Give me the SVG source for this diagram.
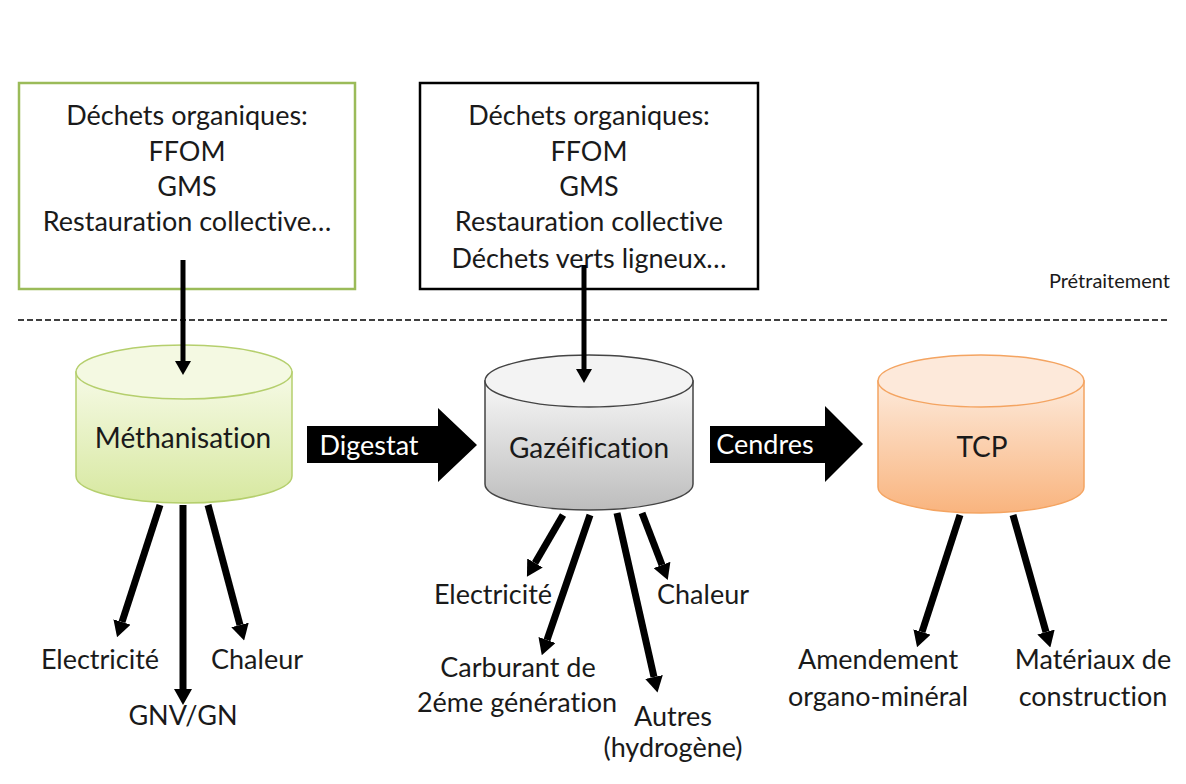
<svg xmlns="http://www.w3.org/2000/svg" width="1186" height="784" viewBox="0 0 1186 784">
<defs>
<linearGradient id="gGreen" x1="0" y1="0" x2="0" y2="1"><stop offset="0" stop-color="#f6fae6"/><stop offset="1" stop-color="#d7e8a0"/></linearGradient>
<linearGradient id="gGray" x1="0" y1="0" x2="0" y2="1"><stop offset="0" stop-color="#f7f7f7"/><stop offset="1" stop-color="#bdbdbd"/></linearGradient>
<linearGradient id="gOrange" x1="0" y1="0" x2="0" y2="1"><stop offset="0" stop-color="#fdeadb"/><stop offset="1" stop-color="#f9b47e"/></linearGradient>
<marker id="ah" viewBox="0 0 16 18" refX="0" refY="9" markerWidth="16" markerHeight="18" markerUnits="userSpaceOnUse" orient="auto"><path d="M0,0 L16,9 L0,18 Z" fill="#000"/></marker>
<marker id="ahs" viewBox="0 0 14 16" refX="0" refY="8" markerWidth="14" markerHeight="16" markerUnits="userSpaceOnUse" orient="auto"><path d="M0,0 L14,8 L0,16 Z" fill="#000"/></marker>
</defs>
<style>
text{font-family:Lato,"Open Sans","Liberation Sans",sans-serif;fill:#1a1a1a;font-variant-ligatures:none;}
.t{font-size:27px;text-anchor:middle;}
.n{font-size:27px;text-anchor:middle;}
.c{font-size:28px;text-anchor:middle;}
.w{font-size:27px;text-anchor:middle;fill:#fff;}
.out{stroke:#000;stroke-width:7;fill:none;marker-end:url(#ah);}
.inp{stroke:#000;stroke-width:5;fill:none;marker-end:url(#ahs);}
</style>
<rect width="1186" height="784" fill="#fff"/>
<g id="box-methanisation-input">
<rect x="19" y="83" width="336" height="206" fill="#fff" stroke="#9bbb59" stroke-width="2.5"/>
<text class="t" x="187" y="125">Déchets organiques:</text>
<text class="t" x="187" y="161">FFOM</text>
<text class="t" x="187" y="196">GMS</text>
<text class="t" x="187" y="231">Restauration collective…</text>
</g>
<g id="box-gazeification-input">
<rect x="420" y="83" width="338" height="206" fill="#fff" stroke="#000" stroke-width="2.5"/>
<text class="t" x="589" y="125">Déchets organiques:</text>
<text class="t" x="589" y="161">FFOM</text>
<text class="t" x="589" y="196">GMS</text>
<text class="t" x="589" y="231">Restauration collective</text>
<text class="t" x="589" y="268">Déchets verts ligneux…</text>
</g>
<g id="pretraitement">
<line x1="18" y1="320" x2="1170" y2="320" stroke="#000" stroke-width="1.5" stroke-dasharray="6,3"/>
<text x="1170" y="288" style="font-size:20px;text-anchor:end">Prétraitement</text>
</g>
<g id="methanisation">
<path d="M76,372 V476 A108,27 0 0 0 292,476 V372 Z" fill="url(#gGreen)" stroke="#b5cf6d" stroke-width="1.5"/>
<ellipse cx="184" cy="372" rx="108" ry="27" fill="#f4f9e2" stroke="#b5cf6d" stroke-width="1.5"/>
<text class="c" x="183" y="448">Méthanisation</text>
</g>
<g id="gazeification">
<path d="M485,381 V484 A104,26 0 0 0 693,484 V381 Z" fill="url(#gGray)" stroke="#444" stroke-width="1.5"/>
<ellipse cx="589" cy="381" rx="104" ry="26" fill="#f3f3f3" stroke="#444" stroke-width="1.5"/>
<text class="c" x="589" y="458">Gazéification</text>
</g>
<g id="tcp">
<path d="M878,381 V487 A103,26 0 0 0 1084,487 V381 Z" fill="url(#gOrange)" stroke="#f4a461" stroke-width="1.5"/>
<ellipse cx="981" cy="381" rx="103" ry="26" fill="#fde9da" stroke="#f4a461" stroke-width="1.5"/>
<text class="c" x="982" y="457">TCP</text>
</g>
<g id="connectors">
<g id="arrow-digestat">
<polygon points="307,426 438,426 438,408 477,445 438,482 438,463 307,463" fill="#000"/>
<text class="w" x="369" y="455">Digestat</text>
</g>
<g id="arrow-cendres">
<polygon points="710,426 825,426 825,406 863,444 825,482 825,463 710,463" fill="#000"/>
<text class="w" x="765" y="454">Cendres</text>
</g>
<path class="inp" d="M183,260 L183,361"/>
<path class="inp" d="M584,265 L584,369"/>
<path class="out" d="M160,505 L122,622"/>
<path class="out" d="M183,505 L183,689"/>
<path class="out" d="M208,505 L240,625"/>
<path class="out" d="M563,515 L535,563"/>
<path class="out" d="M590,515 L547,640"/>
<path class="out" d="M617,513 L654,677"/>
<path class="out" d="M642,513 L662,565"/>
<path class="out" d="M960,515 L922,632"/>
<path class="out" d="M1013,515 L1046,632"/>
</g>
<g id="labels">
<text class="n" x="100" y="669">Electricité</text>
<text class="n" x="257" y="669">Chaleur</text>
<text class="n" x="183" y="725">GNV/GN</text>
<text class="n" x="493" y="604">Electricité</text>
<text class="n" x="703" y="604">Chaleur</text>
<text class="n" x="518" y="677">Carburant de</text>
<text class="n" x="517" y="712">2éme génération</text>
<text class="n" x="673" y="726">Autres</text>
<text class="n" x="673" y="757">(hydrogène)</text>
<text class="n" x="878" y="669">Amendement</text>
<text class="n" x="878" y="706">organo-minéral</text>
<text class="n" x="1093" y="669">Matériaux de</text>
<text class="n" x="1093" y="706">construction</text>
</g>
</svg>
